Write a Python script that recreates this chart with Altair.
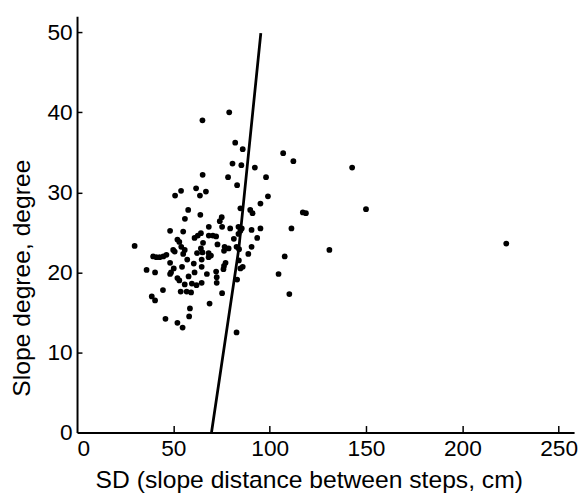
import altair as alt
import pandas as pd

# Scatter data: SD (slope distance between steps, cm) vs slope degree
sd = [79.0, 65.1, 82.1, 86.0, 80.7, 85.3, 92.3, 65.2, 78.4, 98.1,
      83.1, 61.8, 54.0, 50.9, 63.8, 66.9, 99.1, 95.2, 57.7, 84.8,
      89.9, 91.1, 64.0, 56.0, 75.1, 74.1, 48.3, 55.1, 68.4, 75.3,
      79.5, 83.8, 85.5, 84.8, 83.8, 90.6, 95.2, 64.3, 62.7, 61.0,
      68.4, 70.5, 72.2, 52.1, 53.1, 81.4, 93.5, 29.9, 65.4, 64.3,
      72.9, 76.6, 78.7, 76.3, 82.8, 84.1, 90.6, 54.1, 55.9, 55.1,
      49.9, 50.7, 62.3, 68.3, 69.5, 68.3, 65.1, 88.9, 39.5, 41.2,
      42.9, 44.8, 46.4, 57.2, 64.7, 60.6, 48.3, 77.1, 76.3, 76.0,
      84.0, 84.8, 86.0, 50.2, 48.8, 48.3, 54.5, 36.1, 40.5, 67.4,
      61.0, 64.7, 72.2, 72.5, 72.5, 57.9, 52.1, 53.1, 64.7, 55.9,
      59.6, 62.0, 83.1, 44.6, 53.8, 56.9, 59.2, 75.3, 38.8, 40.5,
      68.8, 58.6, 45.9, 58.2, 52.1, 54.8, 82.8, 107.0, 112.3, 142.8,
      117.2, 118.8, 150.0, 111.3, 222.8, 131.0, 107.8, 104.6, 110.2]

slope = [40.0, 39.0, 36.2, 35.4, 33.6, 33.4, 33.1, 32.2, 31.9, 31.9,
         30.9, 30.5, 30.2, 29.6, 29.6, 30.1, 29.5, 28.6, 27.8, 28.0,
         27.8, 27.4, 27.2, 26.7, 26.9, 26.4, 25.2, 25.1, 25.7, 25.7,
         25.5, 25.7, 25.5, 25.2, 24.8, 25.3, 25.5, 24.9, 24.6, 24.3,
         24.6, 24.6, 24.5, 24.1, 23.8, 24.2, 24.3, 23.3, 23.7, 23.0,
         23.5, 23.2, 23.0, 22.7, 23.2, 22.9, 23.2, 23.2, 22.8, 22.3,
         22.8, 22.6, 22.4, 22.4, 22.1, 21.9, 22.5, 22.3, 22.0, 21.9,
         21.9, 22.0, 22.2, 21.6, 21.6, 21.1, 21.2, 21.2, 20.8, 20.4,
         21.5, 20.5, 20.7, 20.5, 20.0, 19.8, 20.7, 20.3, 20.0, 19.8,
         20.0, 20.7, 20.1, 19.4, 18.7, 19.5, 19.3, 19.0, 18.7, 18.5,
         18.6, 18.4, 19.1, 17.8, 17.6, 17.6, 17.5, 17.4, 17.0, 16.5,
         16.1, 15.5, 14.2, 14.5, 13.7, 13.1, 12.5, 34.9, 33.9, 33.1,
         27.5, 27.4, 27.9, 25.5, 23.6, 22.8, 22.0, 19.8, 17.3]

# Boundary curve
line_sd = [69.8, 84.0, 86.5, 91.2, 95.4]
line_slope = [0.0, 23.0, 28.9, 40.0, 49.9]

x_ticks = [0, 50, 100, 150, 200, 250]
y_ticks = [0, 10, 20, 30, 40, 50]
x_inner_ticks = [50, 100, 150, 200, 250]
y_inner_ticks = [10, 20, 30, 40, 50]

FONT = "Liberation Sans"

pts = pd.DataFrame({"sd": sd, "slope": slope})
ln = pd.DataFrame({"sd": line_sd, "slope": line_slope, "i": list(range(len(line_sd)))})

xs = alt.Scale(domain=[0, 258], nice=False, zero=False)
ys = alt.Scale(domain=[0, 52], nice=False, zero=False)

points = alt.Chart(pts).mark_circle(size=34, color="black", opacity=1).encode(
    x=alt.X("sd:Q", scale=xs, axis=alt.Axis(
        values=x_ticks, ticks=False, tickSize=0, grid=False,
        labelFont=FONT, labelFontSize=23, labelColor="black",
        labelBaseline="alphabetic", labelPadding=23, labelFlush=True,
        domainColor="black", domainWidth=2,
        title="SD (slope distance between steps, cm)",
        titleFont=FONT, titleFontSize=25, titleFontWeight="normal", titleColor="black",
        titleBaseline="alphabetic", titleAlign="center", titleX=235, titleY=56)),
    y=alt.Y("slope:Q", scale=ys, axis=alt.Axis(
        values=y_ticks, ticks=False, tickSize=0, grid=False,
        labelFont=FONT, labelFontSize=23, labelColor="black", labelPadding=5,
        domainColor="black", domainWidth=2,
        title="Slope degree, degree",
        titleFont=FONT, titleFontSize=25, titleFontWeight="normal", titleColor="black",
        titleBaseline="alphabetic", titleAlign="center", titleAngle=270,
        titleX=-48, titleY=265)),
)

line = alt.Chart(ln).mark_line(color="black", strokeWidth=2.8).encode(
    x=alt.X("sd:Q", scale=xs, axis=alt.Axis(
        orient="bottom", offset=-7, domain=False, labels=False, ticks=True,
        tickSize=7, tickWidth=1.5, tickColor="black", values=x_inner_ticks,
        grid=False, title=None)),
    y=alt.Y("slope:Q", scale=ys, axis=alt.Axis(
        orient="left", offset=-5, domain=False, labels=False, ticks=True,
        tickSize=5, tickWidth=1.5, tickColor="black", values=y_inner_ticks,
        grid=False, title=None)),
    order="i:O",
)

chart = alt.layer(points, line).resolve_axis(x="independent", y="independent").properties(
    width=504, height=422,
    padding={"left": 70, "top": 5, "right": 5, "bottom": 60},
    autosize=alt.AutoSizeParams(type="none"),
    background="white",
).configure_view(stroke=None)

chart.save("out.html", embed_options={"renderer": "svg", "actions": False})
